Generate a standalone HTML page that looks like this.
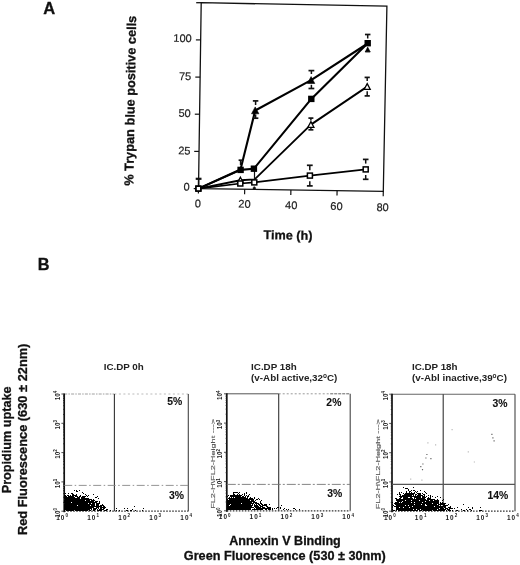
<!DOCTYPE html>
<html><head><meta charset="utf-8"><style>
html,body{margin:0;padding:0;background:#fff;width:520px;height:565px;overflow:hidden;}
svg{display:block;font-family:"Liberation Sans",sans-serif;filter:grayscale(1);}
</style></head><body><svg width="520" height="565" viewBox="0 0 520 565"><polygon points="201.2,2.7 386.9,6.2 383.3,191.3 198.5,188.6" fill="none" stroke="#111" stroke-width="1.3"/><line x1="193.7" y1="188.6" x2="198.5" y2="188.6" stroke="#111" stroke-width="1.2"/><line x1="194.2" y1="151.4" x2="199.0" y2="151.4" stroke="#111" stroke-width="1.2"/><line x1="194.8" y1="114.2" x2="199.6" y2="114.2" stroke="#111" stroke-width="1.2"/><line x1="195.3" y1="77.1" x2="200.1" y2="77.1" stroke="#111" stroke-width="1.2"/><line x1="195.9" y1="39.9" x2="200.7" y2="39.9" stroke="#111" stroke-width="1.2"/><line x1="196.2" y1="2.7" x2="201.2" y2="2.7" stroke="#111" stroke-width="1.3"/><line x1="198.5" y1="188.6" x2="198.4" y2="193.6" stroke="#111" stroke-width="1.2"/><line x1="244.7" y1="189.3" x2="244.6" y2="194.3" stroke="#111" stroke-width="1.2"/><line x1="290.9" y1="189.9" x2="290.8" y2="194.9" stroke="#111" stroke-width="1.2"/><line x1="337.1" y1="190.6" x2="337.0" y2="195.6" stroke="#111" stroke-width="1.2"/><line x1="383.3" y1="191.3" x2="383.2" y2="196.3" stroke="#111" stroke-width="1.2"/><text transform="rotate(0.95 191.7 38.2)" x="191.7" y="42.1" font-family="Liberation Sans, sans-serif" font-size="11" text-anchor="end" fill="#222" stroke="#222" stroke-width="0.2">100</text><text transform="rotate(0.95 191.3 76.3)" x="191.3" y="80.2" font-family="Liberation Sans, sans-serif" font-size="11" text-anchor="end" fill="#222" stroke="#222" stroke-width="0.2">75</text><text transform="rotate(0.95 190.8 113.1)" x="190.8" y="117.0" font-family="Liberation Sans, sans-serif" font-size="11" text-anchor="end" fill="#222" stroke="#222" stroke-width="0.2">50</text><text transform="rotate(0.95 190.5 150.6)" x="190.5" y="154.5" font-family="Liberation Sans, sans-serif" font-size="11" text-anchor="end" fill="#222" stroke="#222" stroke-width="0.2">25</text><text transform="rotate(0.95 189.8 186.8)" x="189.8" y="190.7" font-family="Liberation Sans, sans-serif" font-size="11" text-anchor="end" fill="#222" stroke="#222" stroke-width="0.2">0</text><text transform="rotate(0.95 198.0 203.3)" x="198.0" y="207.2" font-family="Liberation Sans, sans-serif" font-size="11" text-anchor="middle" fill="#222" stroke="#222" stroke-width="0.2">0</text><text transform="rotate(0.95 244.5 203.8)" x="244.5" y="207.7" font-family="Liberation Sans, sans-serif" font-size="11" text-anchor="middle" fill="#222" stroke="#222" stroke-width="0.2">20</text><text transform="rotate(0.95 291.3 205.0)" x="291.3" y="208.9" font-family="Liberation Sans, sans-serif" font-size="11" text-anchor="middle" fill="#222" stroke="#222" stroke-width="0.2">40</text><text transform="rotate(0.95 336.5 206.0)" x="336.5" y="209.9" font-family="Liberation Sans, sans-serif" font-size="11" text-anchor="middle" fill="#222" stroke="#222" stroke-width="0.2">60</text><text transform="rotate(0.95 382.7 207.2)" x="382.7" y="211.1" font-family="Liberation Sans, sans-serif" font-size="11" text-anchor="middle" fill="#222" stroke="#222" stroke-width="0.2">80</text><text transform="rotate(0.95 263.6 239.1)" x="263.6" y="239.1" font-family="Liberation Sans, sans-serif" font-size="12.6" font-weight="bold" fill="#111" stroke="#111" stroke-width="0.3">Time (h)</text><text transform="translate(133.3,185.8) rotate(-89.05)" x="0" y="0" font-family="Liberation Sans, sans-serif" font-size="12.9" font-weight="bold" fill="#111" stroke="#111" stroke-width="0.3" textLength="170" lengthAdjust="spacingAndGlyphs">% Trypan blue positive cells</text><polyline points="198.4,188.6 240.3,183.5 254.3,182.4 309.9,175.6 365.7,169.4" fill="none" stroke="#000" stroke-width="1.7" stroke-linejoin="round"/><polyline points="198.4,188.6 240.4,180.2 254.6,179.4 310.9,124.6 367.2,86.6" fill="none" stroke="#000" stroke-width="1.9" stroke-linejoin="round"/><polyline points="198.4,188.6 240.6,169.9 253.9,168.7 311.3,98.9 367.7,43.2" fill="none" stroke="#000" stroke-width="2.1" stroke-linejoin="round"/><polyline points="198.4,188.6 240.5,169.5 255.2,110.5 311.1,80.2 367.7,43.5" fill="none" stroke="#000" stroke-width="2.1" stroke-linejoin="round"/><line x1="198.6" y1="178.8" x2="198.6" y2="186" stroke="#111" stroke-width="1.5"/><line x1="195.7" y1="178.8" x2="201.5" y2="178.8" stroke="#111" stroke-width="2.2"/><line x1="240.6" y1="160.2" x2="240.6" y2="165" stroke="#111" stroke-width="1.5"/><line x1="238.6" y1="160.2" x2="242.6" y2="160.2" stroke="#111" stroke-width="1.7"/><line x1="255.6" y1="100.9" x2="255.6" y2="105" stroke="#111" stroke-width="1.5"/><line x1="252.85" y1="100.9" x2="258.35" y2="100.9" stroke="#111" stroke-width="1.7"/><line x1="255.6" y1="114.5" x2="255.6" y2="118.2" stroke="#111" stroke-width="1.5"/><line x1="252.85" y1="118.2" x2="258.35" y2="118.2" stroke="#111" stroke-width="1.7"/><line x1="311.4" y1="70.6" x2="311.4" y2="74.0" stroke="#111" stroke-width="1.5"/><line x1="308.5" y1="70.6" x2="314.29999999999995" y2="70.6" stroke="#111" stroke-width="1.7"/><line x1="311.4" y1="84.8" x2="311.4" y2="88.5" stroke="#111" stroke-width="1.5"/><line x1="308.5" y1="88.5" x2="314.29999999999995" y2="88.5" stroke="#111" stroke-width="1.7"/><line x1="310.9" y1="118.1" x2="310.9" y2="120.5" stroke="#111" stroke-width="1.5"/><line x1="308.4" y1="118.1" x2="313.4" y2="118.1" stroke="#111" stroke-width="1.7"/><line x1="310.9" y1="128.0" x2="310.9" y2="129.8" stroke="#111" stroke-width="1.5"/><line x1="308.4" y1="129.8" x2="313.4" y2="129.8" stroke="#111" stroke-width="1.7"/><line x1="309.8" y1="165.3" x2="309.8" y2="170.3" stroke="#111" stroke-width="1.5"/><line x1="306.90000000000003" y1="165.3" x2="312.7" y2="165.3" stroke="#111" stroke-width="1.7"/><line x1="309.8" y1="181.2" x2="309.8" y2="185.9" stroke="#111" stroke-width="1.5"/><line x1="306.90000000000003" y1="185.9" x2="312.7" y2="185.9" stroke="#111" stroke-width="1.7"/><line x1="367.7" y1="34.5" x2="367.7" y2="38.5" stroke="#111" stroke-width="1.5"/><line x1="364.95" y1="34.5" x2="370.45" y2="34.5" stroke="#111" stroke-width="1.7"/><line x1="367.2" y1="77.4" x2="367.2" y2="81.0" stroke="#111" stroke-width="1.5"/><line x1="364.59999999999997" y1="77.4" x2="369.8" y2="77.4" stroke="#111" stroke-width="1.7"/><line x1="367.2" y1="91.3" x2="367.2" y2="95.9" stroke="#111" stroke-width="1.5"/><line x1="364.59999999999997" y1="95.9" x2="369.8" y2="95.9" stroke="#111" stroke-width="1.7"/><line x1="365.7" y1="159.4" x2="365.7" y2="163.6" stroke="#111" stroke-width="1.5"/><line x1="362.9" y1="159.4" x2="368.5" y2="159.4" stroke="#111" stroke-width="1.7"/><line x1="365.7" y1="175.0" x2="365.7" y2="179.3" stroke="#111" stroke-width="1.5"/><line x1="362.9" y1="179.3" x2="368.5" y2="179.3" stroke="#111" stroke-width="1.7"/><line x1="254.3" y1="186.5" x2="254.3" y2="188.2" stroke="#111" stroke-width="1.5"/><line x1="252.8" y1="188.2" x2="255.8" y2="188.2" stroke="#111" stroke-width="1.7"/><polygon points="240.4,177.2 243.4,182.9 237.4,182.9" fill="#fff" stroke="#000" stroke-width="1.3"/><polygon points="310.9,121.6 313.9,127.3 307.9,127.3" fill="#fff" stroke="#000" stroke-width="1.3"/><polygon points="367.2,83.6 370.2,89.3 364.2,89.3" fill="#fff" stroke="#000" stroke-width="1.3"/><line x1="254.5" y1="171" x2="254.5" y2="180" stroke="#111" stroke-width="1.2"/><rect x="195.90" y="186.10" width="5.00" height="5.00" fill="#fff" stroke="#000" stroke-width="1.5"/><rect x="237.80" y="181.00" width="5.00" height="5.00" fill="#fff" stroke="#000" stroke-width="1.5"/><rect x="251.80" y="179.90" width="5.00" height="5.00" fill="#fff" stroke="#000" stroke-width="1.5"/><rect x="307.40" y="173.10" width="5.00" height="5.00" fill="#fff" stroke="#000" stroke-width="1.5"/><rect x="363.20" y="166.90" width="5.00" height="5.00" fill="#fff" stroke="#000" stroke-width="1.5"/><polygon points="255.2,106.9 258.9,113.8 251.5,113.8" fill="#000" stroke="#000" stroke-width="0.6" stroke-linejoin="round"/><polygon points="311.1,76.6 314.8,83.5 307.4,83.5" fill="#000" stroke="#000" stroke-width="0.6" stroke-linejoin="round"/><polygon points="367.7,47.1 370.2,51.9 365.2,51.9" fill="#000" stroke="#000" stroke-width="0.6" stroke-linejoin="round"/><line x1="365.2" y1="51.6" x2="370.2" y2="51.6" stroke="#111" stroke-width="1.3"/><rect x="237.4" y="166.7" width="6.4" height="6.4" fill="#000"/><rect x="250.7" y="165.5" width="6.4" height="6.4" fill="#000"/><rect x="308.1" y="95.7" width="6.4" height="6.4" fill="#000"/><rect x="364.5" y="40.0" width="6.4" height="6.4" fill="#000"/><rect x="196.05" y="186.25" width="4.70" height="4.70" fill="#fff" stroke="#000" stroke-width="1.5"/><text x="43.3" y="14.4" font-family="Liberation Sans, sans-serif" font-size="16.5" font-weight="bold" fill="#111" stroke="#111" stroke-width="0.3">A</text><text x="37.8" y="269.6" font-family="Liberation Sans, sans-serif" font-size="16.3" font-weight="bold" fill="#111" stroke="#111" stroke-width="0.3">B</text><line x1="64.2" y1="394.0" x2="114.4" y2="394.0" stroke="#888" stroke-width="0.8" stroke-dasharray="3 1.2 1.5 1.2"/><line x1="114.4" y1="394.0" x2="188.3" y2="394.0" stroke="#aaa" stroke-width="0.8" stroke-dasharray="2 2.5"/><line x1="188.3" y1="394.0" x2="188.3" y2="511.2" stroke="#444" stroke-width="1.1"/><line x1="64.2" y1="511.2" x2="188.3" y2="511.2" stroke="#333" stroke-width="1.2" stroke-dasharray="1.6 1.4"/><line x1="64.2" y1="393.5" x2="64.2" y2="512.2" stroke="#111" stroke-width="1.7"/><line x1="61.4" y1="511.2" x2="64.2" y2="511.2" stroke="#222" stroke-width="0.8"/><line x1="63.0" y1="502.4" x2="64.2" y2="502.4" stroke="#222" stroke-width="0.8"/><line x1="63.0" y1="497.2" x2="64.2" y2="497.2" stroke="#222" stroke-width="0.8"/><line x1="63.0" y1="493.6" x2="64.2" y2="493.6" stroke="#222" stroke-width="0.8"/><line x1="63.0" y1="490.7" x2="64.2" y2="490.7" stroke="#222" stroke-width="0.8"/><line x1="63.0" y1="488.4" x2="64.2" y2="488.4" stroke="#222" stroke-width="0.8"/><line x1="63.0" y1="486.4" x2="64.2" y2="486.4" stroke="#222" stroke-width="0.8"/><line x1="63.0" y1="484.7" x2="64.2" y2="484.7" stroke="#222" stroke-width="0.8"/><line x1="63.0" y1="483.2" x2="64.2" y2="483.2" stroke="#222" stroke-width="0.8"/><line x1="61.4" y1="481.9" x2="64.2" y2="481.9" stroke="#222" stroke-width="0.8"/><line x1="63.0" y1="473.1" x2="64.2" y2="473.1" stroke="#222" stroke-width="0.8"/><line x1="63.0" y1="467.9" x2="64.2" y2="467.9" stroke="#222" stroke-width="0.8"/><line x1="63.0" y1="464.3" x2="64.2" y2="464.3" stroke="#222" stroke-width="0.8"/><line x1="63.0" y1="461.4" x2="64.2" y2="461.4" stroke="#222" stroke-width="0.8"/><line x1="63.0" y1="459.1" x2="64.2" y2="459.1" stroke="#222" stroke-width="0.8"/><line x1="63.0" y1="457.1" x2="64.2" y2="457.1" stroke="#222" stroke-width="0.8"/><line x1="63.0" y1="455.4" x2="64.2" y2="455.4" stroke="#222" stroke-width="0.8"/><line x1="63.0" y1="453.9" x2="64.2" y2="453.9" stroke="#222" stroke-width="0.8"/><line x1="61.4" y1="452.6" x2="64.2" y2="452.6" stroke="#222" stroke-width="0.8"/><line x1="63.0" y1="443.8" x2="64.2" y2="443.8" stroke="#222" stroke-width="0.8"/><line x1="63.0" y1="438.6" x2="64.2" y2="438.6" stroke="#222" stroke-width="0.8"/><line x1="63.0" y1="435.0" x2="64.2" y2="435.0" stroke="#222" stroke-width="0.8"/><line x1="63.0" y1="432.1" x2="64.2" y2="432.1" stroke="#222" stroke-width="0.8"/><line x1="63.0" y1="429.8" x2="64.2" y2="429.8" stroke="#222" stroke-width="0.8"/><line x1="63.0" y1="427.8" x2="64.2" y2="427.8" stroke="#222" stroke-width="0.8"/><line x1="63.0" y1="426.1" x2="64.2" y2="426.1" stroke="#222" stroke-width="0.8"/><line x1="63.0" y1="424.6" x2="64.2" y2="424.6" stroke="#222" stroke-width="0.8"/><line x1="61.4" y1="423.3" x2="64.2" y2="423.3" stroke="#222" stroke-width="0.8"/><line x1="63.0" y1="414.5" x2="64.2" y2="414.5" stroke="#222" stroke-width="0.8"/><line x1="63.0" y1="409.3" x2="64.2" y2="409.3" stroke="#222" stroke-width="0.8"/><line x1="63.0" y1="405.7" x2="64.2" y2="405.7" stroke="#222" stroke-width="0.8"/><line x1="63.0" y1="402.8" x2="64.2" y2="402.8" stroke="#222" stroke-width="0.8"/><line x1="63.0" y1="400.5" x2="64.2" y2="400.5" stroke="#222" stroke-width="0.8"/><line x1="63.0" y1="398.5" x2="64.2" y2="398.5" stroke="#222" stroke-width="0.8"/><line x1="63.0" y1="396.8" x2="64.2" y2="396.8" stroke="#222" stroke-width="0.8"/><line x1="63.0" y1="395.3" x2="64.2" y2="395.3" stroke="#222" stroke-width="0.8"/><line x1="61.4" y1="394.0" x2="64.2" y2="394.0" stroke="#222" stroke-width="0.8"/><line x1="114.4" y1="394.0" x2="114.4" y2="511.2" stroke="#333" stroke-width="1.1"/><line x1="64.2" y1="485.4" x2="188.3" y2="485.4" stroke="#888" stroke-width="0.9" stroke-dasharray="8 2.5 1.5 2.5"/><text x="62.6" y="519.5" font-family="Liberation Sans, sans-serif" font-size="6.4" font-weight="bold" text-anchor="middle" fill="#1a1a1a" letter-spacing="1.1">10<tspan font-size="4.5" dy="-2.2">0</tspan></text><text x="93.6" y="519.5" font-family="Liberation Sans, sans-serif" font-size="6.4" font-weight="bold" text-anchor="middle" fill="#1a1a1a" letter-spacing="1.1">10<tspan font-size="4.5" dy="-2.2">1</tspan></text><text x="124.7" y="519.5" font-family="Liberation Sans, sans-serif" font-size="6.4" font-weight="bold" text-anchor="middle" fill="#1a1a1a" letter-spacing="1.1">10<tspan font-size="4.5" dy="-2.2">2</tspan></text><text x="155.7" y="519.5" font-family="Liberation Sans, sans-serif" font-size="6.4" font-weight="bold" text-anchor="middle" fill="#1a1a1a" letter-spacing="1.1">10<tspan font-size="4.5" dy="-2.2">3</tspan></text><text x="186.7" y="519.5" font-family="Liberation Sans, sans-serif" font-size="6.4" font-weight="bold" text-anchor="middle" fill="#1a1a1a" letter-spacing="1.1">10<tspan font-size="4.5" dy="-2.2">4</tspan></text><text transform="translate(59.8,512.7) rotate(-90)" font-family="Liberation Sans, sans-serif" font-size="6.3" font-weight="bold" text-anchor="middle" fill="#1a1a1a">10<tspan font-size="4.5" dy="-2.5">0</tspan></text><text transform="translate(59.8,483.4) rotate(-90)" font-family="Liberation Sans, sans-serif" font-size="6.3" font-weight="bold" text-anchor="middle" fill="#1a1a1a">10<tspan font-size="4.5" dy="-2.5">1</tspan></text><text transform="translate(59.8,454.1) rotate(-90)" font-family="Liberation Sans, sans-serif" font-size="6.3" font-weight="bold" text-anchor="middle" fill="#1a1a1a">10<tspan font-size="4.5" dy="-2.5">2</tspan></text><text transform="translate(59.8,424.8) rotate(-90)" font-family="Liberation Sans, sans-serif" font-size="6.3" font-weight="bold" text-anchor="middle" fill="#1a1a1a">10<tspan font-size="4.5" dy="-2.5">3</tspan></text><text transform="translate(59.8,395.5) rotate(-90)" font-family="Liberation Sans, sans-serif" font-size="6.3" font-weight="bold" text-anchor="middle" fill="#1a1a1a">10<tspan font-size="4.5" dy="-2.5">4</tspan></text><text x="103.7" y="369.5" font-family="Liberation Sans, sans-serif" font-size="9.8" font-weight="bold" fill="#222">IC.DP 0h</text><text x="182.3" y="405.3" font-family="Liberation Sans, sans-serif" font-size="10.4" font-weight="bold" text-anchor="end" fill="#111" stroke="#111" stroke-width="0.1">5%</text><text x="184.1" y="498.6" font-family="Liberation Sans, sans-serif" font-size="10.4" font-weight="bold" text-anchor="end" fill="#111" stroke="#111" stroke-width="0.1">3%</text><line x1="226.8" y1="393.8" x2="278.7" y2="393.8" stroke="#555" stroke-width="1"/><line x1="278.7" y1="393.8" x2="330.2" y2="393.8" stroke="#999" stroke-width="1" stroke-dasharray="2 2"/><line x1="330.2" y1="393.8" x2="350.2" y2="393.8" stroke="#666" stroke-width="1" stroke-dasharray="3 1"/><line x1="350.2" y1="393.8" x2="350.2" y2="510.8" stroke="#444" stroke-width="1.1"/><line x1="226.8" y1="510.8" x2="350.2" y2="510.8" stroke="#333" stroke-width="1.2" stroke-dasharray="1.6 1.4"/><line x1="226.8" y1="393.3" x2="226.8" y2="511.8" stroke="#111" stroke-width="1.7"/><line x1="224.0" y1="510.8" x2="226.8" y2="510.8" stroke="#222" stroke-width="0.8"/><line x1="225.6" y1="502.0" x2="226.8" y2="502.0" stroke="#222" stroke-width="0.8"/><line x1="225.6" y1="496.8" x2="226.8" y2="496.8" stroke="#222" stroke-width="0.8"/><line x1="225.6" y1="493.2" x2="226.8" y2="493.2" stroke="#222" stroke-width="0.8"/><line x1="225.6" y1="490.4" x2="226.8" y2="490.4" stroke="#222" stroke-width="0.8"/><line x1="225.6" y1="488.0" x2="226.8" y2="488.0" stroke="#222" stroke-width="0.8"/><line x1="225.6" y1="486.1" x2="226.8" y2="486.1" stroke="#222" stroke-width="0.8"/><line x1="225.6" y1="484.4" x2="226.8" y2="484.4" stroke="#222" stroke-width="0.8"/><line x1="225.6" y1="482.9" x2="226.8" y2="482.9" stroke="#222" stroke-width="0.8"/><line x1="224.0" y1="481.6" x2="226.8" y2="481.6" stroke="#222" stroke-width="0.8"/><line x1="225.6" y1="472.7" x2="226.8" y2="472.7" stroke="#222" stroke-width="0.8"/><line x1="225.6" y1="467.6" x2="226.8" y2="467.6" stroke="#222" stroke-width="0.8"/><line x1="225.6" y1="463.9" x2="226.8" y2="463.9" stroke="#222" stroke-width="0.8"/><line x1="225.6" y1="461.1" x2="226.8" y2="461.1" stroke="#222" stroke-width="0.8"/><line x1="225.6" y1="458.8" x2="226.8" y2="458.8" stroke="#222" stroke-width="0.8"/><line x1="225.6" y1="456.8" x2="226.8" y2="456.8" stroke="#222" stroke-width="0.8"/><line x1="225.6" y1="455.1" x2="226.8" y2="455.1" stroke="#222" stroke-width="0.8"/><line x1="225.6" y1="453.6" x2="226.8" y2="453.6" stroke="#222" stroke-width="0.8"/><line x1="224.0" y1="452.3" x2="226.8" y2="452.3" stroke="#222" stroke-width="0.8"/><line x1="225.6" y1="443.5" x2="226.8" y2="443.5" stroke="#222" stroke-width="0.8"/><line x1="225.6" y1="438.3" x2="226.8" y2="438.3" stroke="#222" stroke-width="0.8"/><line x1="225.6" y1="434.7" x2="226.8" y2="434.7" stroke="#222" stroke-width="0.8"/><line x1="225.6" y1="431.9" x2="226.8" y2="431.9" stroke="#222" stroke-width="0.8"/><line x1="225.6" y1="429.5" x2="226.8" y2="429.5" stroke="#222" stroke-width="0.8"/><line x1="225.6" y1="427.6" x2="226.8" y2="427.6" stroke="#222" stroke-width="0.8"/><line x1="225.6" y1="425.9" x2="226.8" y2="425.9" stroke="#222" stroke-width="0.8"/><line x1="225.6" y1="424.4" x2="226.8" y2="424.4" stroke="#222" stroke-width="0.8"/><line x1="224.0" y1="423.1" x2="226.8" y2="423.1" stroke="#222" stroke-width="0.8"/><line x1="225.6" y1="414.2" x2="226.8" y2="414.2" stroke="#222" stroke-width="0.8"/><line x1="225.6" y1="409.1" x2="226.8" y2="409.1" stroke="#222" stroke-width="0.8"/><line x1="225.6" y1="405.4" x2="226.8" y2="405.4" stroke="#222" stroke-width="0.8"/><line x1="225.6" y1="402.6" x2="226.8" y2="402.6" stroke="#222" stroke-width="0.8"/><line x1="225.6" y1="400.3" x2="226.8" y2="400.3" stroke="#222" stroke-width="0.8"/><line x1="225.6" y1="398.3" x2="226.8" y2="398.3" stroke="#222" stroke-width="0.8"/><line x1="225.6" y1="396.6" x2="226.8" y2="396.6" stroke="#222" stroke-width="0.8"/><line x1="225.6" y1="395.1" x2="226.8" y2="395.1" stroke="#222" stroke-width="0.8"/><line x1="224.0" y1="393.8" x2="226.8" y2="393.8" stroke="#222" stroke-width="0.8"/><line x1="278.7" y1="393.8" x2="278.7" y2="510.8" stroke="#333" stroke-width="1.1"/><line x1="226.8" y1="484.4" x2="350.2" y2="484.4" stroke="#777" stroke-width="0.9" stroke-dasharray="9 2 2 2"/><text x="225.2" y="519.1" font-family="Liberation Sans, sans-serif" font-size="6.4" font-weight="bold" text-anchor="middle" fill="#1a1a1a" letter-spacing="1.1">10<tspan font-size="4.5" dy="-2.2">0</tspan></text><text x="256.0" y="519.1" font-family="Liberation Sans, sans-serif" font-size="6.4" font-weight="bold" text-anchor="middle" fill="#1a1a1a" letter-spacing="1.1">10<tspan font-size="4.5" dy="-2.2">1</tspan></text><text x="286.9" y="519.1" font-family="Liberation Sans, sans-serif" font-size="6.4" font-weight="bold" text-anchor="middle" fill="#1a1a1a" letter-spacing="1.1">10<tspan font-size="4.5" dy="-2.2">2</tspan></text><text x="317.8" y="519.1" font-family="Liberation Sans, sans-serif" font-size="6.4" font-weight="bold" text-anchor="middle" fill="#1a1a1a" letter-spacing="1.1">10<tspan font-size="4.5" dy="-2.2">3</tspan></text><text x="348.6" y="519.1" font-family="Liberation Sans, sans-serif" font-size="6.4" font-weight="bold" text-anchor="middle" fill="#1a1a1a" letter-spacing="1.1">10<tspan font-size="4.5" dy="-2.2">4</tspan></text><text transform="translate(222.4,512.3) rotate(-90)" font-family="Liberation Sans, sans-serif" font-size="6.3" font-weight="bold" text-anchor="middle" fill="#1a1a1a">10<tspan font-size="4.5" dy="-2.5">0</tspan></text><text transform="translate(222.4,483.1) rotate(-90)" font-family="Liberation Sans, sans-serif" font-size="6.3" font-weight="bold" text-anchor="middle" fill="#1a1a1a">10<tspan font-size="4.5" dy="-2.5">1</tspan></text><text transform="translate(222.4,453.8) rotate(-90)" font-family="Liberation Sans, sans-serif" font-size="6.3" font-weight="bold" text-anchor="middle" fill="#1a1a1a">10<tspan font-size="4.5" dy="-2.5">2</tspan></text><text transform="translate(222.4,424.6) rotate(-90)" font-family="Liberation Sans, sans-serif" font-size="6.3" font-weight="bold" text-anchor="middle" fill="#1a1a1a">10<tspan font-size="4.5" dy="-2.5">3</tspan></text><text transform="translate(222.4,395.3) rotate(-90)" font-family="Liberation Sans, sans-serif" font-size="6.3" font-weight="bold" text-anchor="middle" fill="#1a1a1a">10<tspan font-size="4.5" dy="-2.5">4</tspan></text><text x="251.1" y="369.5" font-family="Liberation Sans, sans-serif" font-size="9.8" font-weight="bold" fill="#222">IC.DP 18h</text><text x="251.1" y="381.2" font-family="Liberation Sans, sans-serif" font-size="9.8" font-weight="bold" fill="#222">(v-Abl active,32<tspan font-size="6.5" dy="-3.6">o</tspan><tspan dy="3.6">C</tspan>)</text><text x="341.4" y="405.8" font-family="Liberation Sans, sans-serif" font-size="10.4" font-weight="bold" text-anchor="end" fill="#111" stroke="#111" stroke-width="0.1">2%</text><text x="342.3" y="497.4" font-family="Liberation Sans, sans-serif" font-size="10.4" font-weight="bold" text-anchor="end" fill="#111" stroke="#111" stroke-width="0.1">3%</text><text transform="translate(214.5,508.8) rotate(-90)" font-family="Liberation Sans, sans-serif" font-size="6.2" fill="#555" stroke="#555" stroke-width="0.15" textLength="90" lengthAdjust="spacingAndGlyphs">FL2-H\FL2-Height ---&gt;</text><line x1="392.0" y1="394.2" x2="515.0" y2="394.2" stroke="#666" stroke-width="1.1"/><line x1="515.0" y1="394.2" x2="515.0" y2="511.2" stroke="#444" stroke-width="1.1"/><line x1="392.0" y1="511.2" x2="515.0" y2="511.2" stroke="#333" stroke-width="1.2" stroke-dasharray="1.6 1.4"/><line x1="392.0" y1="393.7" x2="392.0" y2="512.2" stroke="#111" stroke-width="1.7"/><line x1="389.2" y1="511.2" x2="392.0" y2="511.2" stroke="#222" stroke-width="0.8"/><line x1="390.8" y1="502.4" x2="392.0" y2="502.4" stroke="#222" stroke-width="0.8"/><line x1="390.8" y1="497.2" x2="392.0" y2="497.2" stroke="#222" stroke-width="0.8"/><line x1="390.8" y1="493.6" x2="392.0" y2="493.6" stroke="#222" stroke-width="0.8"/><line x1="390.8" y1="490.8" x2="392.0" y2="490.8" stroke="#222" stroke-width="0.8"/><line x1="390.8" y1="488.4" x2="392.0" y2="488.4" stroke="#222" stroke-width="0.8"/><line x1="390.8" y1="486.5" x2="392.0" y2="486.5" stroke="#222" stroke-width="0.8"/><line x1="390.8" y1="484.8" x2="392.0" y2="484.8" stroke="#222" stroke-width="0.8"/><line x1="390.8" y1="483.3" x2="392.0" y2="483.3" stroke="#222" stroke-width="0.8"/><line x1="389.2" y1="481.9" x2="392.0" y2="481.9" stroke="#222" stroke-width="0.8"/><line x1="390.8" y1="473.1" x2="392.0" y2="473.1" stroke="#222" stroke-width="0.8"/><line x1="390.8" y1="468.0" x2="392.0" y2="468.0" stroke="#222" stroke-width="0.8"/><line x1="390.8" y1="464.3" x2="392.0" y2="464.3" stroke="#222" stroke-width="0.8"/><line x1="390.8" y1="461.5" x2="392.0" y2="461.5" stroke="#222" stroke-width="0.8"/><line x1="390.8" y1="459.2" x2="392.0" y2="459.2" stroke="#222" stroke-width="0.8"/><line x1="390.8" y1="457.2" x2="392.0" y2="457.2" stroke="#222" stroke-width="0.8"/><line x1="390.8" y1="455.5" x2="392.0" y2="455.5" stroke="#222" stroke-width="0.8"/><line x1="390.8" y1="454.0" x2="392.0" y2="454.0" stroke="#222" stroke-width="0.8"/><line x1="389.2" y1="452.7" x2="392.0" y2="452.7" stroke="#222" stroke-width="0.8"/><line x1="390.8" y1="443.9" x2="392.0" y2="443.9" stroke="#222" stroke-width="0.8"/><line x1="390.8" y1="438.7" x2="392.0" y2="438.7" stroke="#222" stroke-width="0.8"/><line x1="390.8" y1="435.1" x2="392.0" y2="435.1" stroke="#222" stroke-width="0.8"/><line x1="390.8" y1="432.3" x2="392.0" y2="432.3" stroke="#222" stroke-width="0.8"/><line x1="390.8" y1="429.9" x2="392.0" y2="429.9" stroke="#222" stroke-width="0.8"/><line x1="390.8" y1="428.0" x2="392.0" y2="428.0" stroke="#222" stroke-width="0.8"/><line x1="390.8" y1="426.3" x2="392.0" y2="426.3" stroke="#222" stroke-width="0.8"/><line x1="390.8" y1="424.8" x2="392.0" y2="424.8" stroke="#222" stroke-width="0.8"/><line x1="389.2" y1="423.4" x2="392.0" y2="423.4" stroke="#222" stroke-width="0.8"/><line x1="390.8" y1="414.6" x2="392.0" y2="414.6" stroke="#222" stroke-width="0.8"/><line x1="390.8" y1="409.5" x2="392.0" y2="409.5" stroke="#222" stroke-width="0.8"/><line x1="390.8" y1="405.8" x2="392.0" y2="405.8" stroke="#222" stroke-width="0.8"/><line x1="390.8" y1="403.0" x2="392.0" y2="403.0" stroke="#222" stroke-width="0.8"/><line x1="390.8" y1="400.7" x2="392.0" y2="400.7" stroke="#222" stroke-width="0.8"/><line x1="390.8" y1="398.7" x2="392.0" y2="398.7" stroke="#222" stroke-width="0.8"/><line x1="390.8" y1="397.0" x2="392.0" y2="397.0" stroke="#222" stroke-width="0.8"/><line x1="390.8" y1="395.5" x2="392.0" y2="395.5" stroke="#222" stroke-width="0.8"/><line x1="389.2" y1="394.2" x2="392.0" y2="394.2" stroke="#222" stroke-width="0.8"/><line x1="443.2" y1="394.2" x2="443.2" y2="511.2" stroke="#333" stroke-width="1.1"/><line x1="392.0" y1="484.4" x2="515.0" y2="484.4" stroke="#555" stroke-width="1.1"/><text x="390.4" y="519.5" font-family="Liberation Sans, sans-serif" font-size="6.4" font-weight="bold" text-anchor="middle" fill="#1a1a1a" letter-spacing="1.1">10<tspan font-size="4.5" dy="-2.2">0</tspan></text><text x="421.1" y="519.5" font-family="Liberation Sans, sans-serif" font-size="6.4" font-weight="bold" text-anchor="middle" fill="#1a1a1a" letter-spacing="1.1">10<tspan font-size="4.5" dy="-2.2">1</tspan></text><text x="451.9" y="519.5" font-family="Liberation Sans, sans-serif" font-size="6.4" font-weight="bold" text-anchor="middle" fill="#1a1a1a" letter-spacing="1.1">10<tspan font-size="4.5" dy="-2.2">2</tspan></text><text x="482.6" y="519.5" font-family="Liberation Sans, sans-serif" font-size="6.4" font-weight="bold" text-anchor="middle" fill="#1a1a1a" letter-spacing="1.1">10<tspan font-size="4.5" dy="-2.2">3</tspan></text><text x="513.4" y="519.5" font-family="Liberation Sans, sans-serif" font-size="6.4" font-weight="bold" text-anchor="middle" fill="#1a1a1a" letter-spacing="1.1">10<tspan font-size="4.5" dy="-2.2">4</tspan></text><text transform="translate(387.6,512.7) rotate(-90)" font-family="Liberation Sans, sans-serif" font-size="6.3" font-weight="bold" text-anchor="middle" fill="#1a1a1a">10<tspan font-size="4.5" dy="-2.5">0</tspan></text><text transform="translate(387.6,483.4) rotate(-90)" font-family="Liberation Sans, sans-serif" font-size="6.3" font-weight="bold" text-anchor="middle" fill="#1a1a1a">10<tspan font-size="4.5" dy="-2.5">1</tspan></text><text transform="translate(387.6,454.2) rotate(-90)" font-family="Liberation Sans, sans-serif" font-size="6.3" font-weight="bold" text-anchor="middle" fill="#1a1a1a">10<tspan font-size="4.5" dy="-2.5">2</tspan></text><text transform="translate(387.6,424.9) rotate(-90)" font-family="Liberation Sans, sans-serif" font-size="6.3" font-weight="bold" text-anchor="middle" fill="#1a1a1a">10<tspan font-size="4.5" dy="-2.5">3</tspan></text><text transform="translate(387.6,395.7) rotate(-90)" font-family="Liberation Sans, sans-serif" font-size="6.3" font-weight="bold" text-anchor="middle" fill="#1a1a1a">10<tspan font-size="4.5" dy="-2.5">4</tspan></text><text x="412.0" y="369.5" font-family="Liberation Sans, sans-serif" font-size="9.8" font-weight="bold" fill="#222">IC.DP 18h</text><text x="412.0" y="381.2" font-family="Liberation Sans, sans-serif" font-size="9.8" font-weight="bold" fill="#222">(v-Abl inactive,39<tspan font-size="6.5" dy="-3.6">o</tspan><tspan dy="3.6">C</tspan>)</text><text x="507.5" y="407.0" font-family="Liberation Sans, sans-serif" font-size="10.4" font-weight="bold" text-anchor="end" fill="#111" stroke="#111" stroke-width="0.1">3%</text><text x="508.3" y="498.9" font-family="Liberation Sans, sans-serif" font-size="10.4" font-weight="bold" text-anchor="end" fill="#111" stroke="#111" stroke-width="0.1">14%</text><text transform="translate(379.7,509.2) rotate(-90)" font-family="Liberation Sans, sans-serif" font-size="6.2" fill="#555" stroke="#555" stroke-width="0.15" textLength="90" lengthAdjust="spacingAndGlyphs">FL2-H\FL2-Height ---&gt;</text><path d="M74 490h1v1h-1zM76 490h1v1h-1zM79 490h1v1h-1zM76 491h2v1h-2zM82 492h1v1h-1zM65 493h1v1h-1zM68 493h1v1h-1zM71 493h2v1h-2zM83 493h1v1h-1zM72 494h2v1h-2zM76 494h1v1h-1zM85 494h1v1h-1zM93 494h1v1h-1zM64 495h2v1h-2zM67 495h2v1h-2zM70 495h1v1h-1zM72 495h5v1h-5zM80 495h1v1h-1zM86 495h1v1h-1zM88 495h1v1h-1zM64 496h3v1h-3zM68 496h6v1h-6zM75 496h3v1h-3zM79 496h2v1h-2zM82 496h4v1h-4zM87 496h1v1h-1zM97 496h1v1h-1zM64 497h11v1h-11zM77 497h3v1h-3zM81 497h4v1h-4zM95 497h2v1h-2zM64 498h16v1h-16zM81 498h8v1h-8zM98 498h1v1h-1zM65 499h27v1h-27zM93 499h1v1h-1zM64 500h21v1h-21zM86 500h4v1h-4zM91 500h4v1h-4zM64 501h30v1h-30zM95 501h3v1h-3zM99 501h1v1h-1zM64 502h7v1h-7zM72 502h25v1h-25zM99 502h1v1h-1zM65 503h23v1h-23zM89 503h2v1h-2zM92 503h3v1h-3zM96 503h4v1h-4zM64 504h31v1h-31zM96 504h3v1h-3zM102 504h1v1h-1zM64 505h13v1h-13zM78 505h12v1h-12zM91 505h4v1h-4zM96 505h3v1h-3zM100 505h4v1h-4zM64 506h38v1h-38zM103 506h2v1h-2zM134 506h1v1h-1zM64 507h30v1h-30zM96 507h3v1h-3zM100 507h6v1h-6zM64 508h28v1h-28zM93 508h4v1h-4zM98 508h1v1h-1zM100 508h2v1h-2zM103 508h2v1h-2zM116 508h1v1h-1zM124 508h1v1h-1zM127 508h1v1h-1zM143 508h1v1h-1zM64 509h26v1h-26zM91 509h1v1h-1zM93 509h3v1h-3zM97 509h1v1h-1zM99 509h5v1h-5zM106 509h2v1h-2zM132 509h1v1h-1zM64 510h1v1h-1zM66 510h8v1h-8zM75 510h13v1h-13zM89 510h2v1h-2zM93 510h2v1h-2zM97 510h5v1h-5zM104 510h3v1h-3zM110 510h1v1h-1zM116 510h1v1h-1zM119 510h1v1h-1zM126 510h2v1h-2zM130 510h2v1h-2zM135 510h1v1h-1zM142 510h1v1h-1z" fill="#000"/><path d="M233 492h5v1h-5zM239 492h1v1h-1zM246 492h1v1h-1zM233 493h1v1h-1zM238 493h1v1h-1zM244 493h1v1h-1zM246 493h1v1h-1zM233 494h2v1h-2zM237 494h1v1h-1zM239 494h1v1h-1zM242 494h1v1h-1zM244 494h1v1h-1zM249 494h1v1h-1zM228 495h1v1h-1zM230 495h12v1h-12zM244 495h1v1h-1zM246 495h1v1h-1zM248 495h1v1h-1zM227 496h1v1h-1zM230 496h11v1h-11zM242 496h2v1h-2zM245 496h1v1h-1zM247 496h2v1h-2zM229 497h1v1h-1zM231 497h1v1h-1zM233 497h1v1h-1zM235 497h11v1h-11zM247 497h1v1h-1zM250 497h1v1h-1zM254 497h1v1h-1zM228 498h20v1h-20zM249 498h4v1h-4zM254 498h1v1h-1zM258 498h1v1h-1zM227 499h1v1h-1zM229 499h25v1h-25zM256 499h2v1h-2zM259 499h1v1h-1zM227 500h23v1h-23zM251 500h3v1h-3zM255 500h1v1h-1zM261 500h1v1h-1zM227 501h28v1h-28zM260 501h1v1h-1zM227 502h25v1h-25zM253 502h4v1h-4zM260 502h1v1h-1zM227 503h14v1h-14zM242 503h12v1h-12zM255 503h4v1h-4zM260 503h2v1h-2zM227 504h3v1h-3zM231 504h20v1h-20zM252 504h1v1h-1zM254 504h1v1h-1zM256 504h1v1h-1zM258 504h2v1h-2zM261 504h2v1h-2zM264 504h3v1h-3zM269 504h1v1h-1zM227 505h2v1h-2zM230 505h23v1h-23zM254 505h4v1h-4zM259 505h2v1h-2zM262 505h5v1h-5zM281 505h1v1h-1zM227 506h25v1h-25zM254 506h5v1h-5zM260 506h3v1h-3zM266 506h2v1h-2zM227 507h27v1h-27zM255 507h6v1h-6zM262 507h3v1h-3zM267 507h4v1h-4zM277 507h2v1h-2zM280 507h1v1h-1zM227 508h24v1h-24zM254 508h1v1h-1zM256 508h15v1h-15zM272 508h1v1h-1zM274 508h1v1h-1zM276 508h1v1h-1zM280 508h1v1h-1zM284 508h1v1h-1zM293 508h2v1h-2zM227 509h24v1h-24zM252 509h11v1h-11zM265 509h2v1h-2zM268 509h3v1h-3zM272 509h1v1h-1zM283 509h1v1h-1zM286 509h1v1h-1zM288 509h1v1h-1zM295 509h1v1h-1zM299 509h1v1h-1z" fill="#000"/><path d="M403 487h1v1h-1zM413 487h1v1h-1zM405 488h3v1h-3zM408 489h1v1h-1zM408 490h1v1h-1zM411 490h1v1h-1zM413 490h2v1h-2zM420 490h1v1h-1zM406 491h1v1h-1zM409 491h2v1h-2zM415 491h1v1h-1zM417 491h1v1h-1zM424 491h1v1h-1zM399 492h1v1h-1zM401 492h1v1h-1zM406 492h1v1h-1zM409 492h1v1h-1zM411 492h1v1h-1zM414 492h1v1h-1zM416 492h1v1h-1zM425 492h1v1h-1zM399 493h1v1h-1zM403 493h1v1h-1zM405 493h10v1h-10zM417 493h4v1h-4zM422 493h1v1h-1zM426 493h1v1h-1zM397 494h1v1h-1zM399 494h2v1h-2zM404 494h10v1h-10zM415 494h2v1h-2zM418 494h3v1h-3zM423 494h2v1h-2zM400 495h1v1h-1zM402 495h10v1h-10zM413 495h1v1h-1zM415 495h1v1h-1zM417 495h6v1h-6zM424 495h1v1h-1zM428 495h1v1h-1zM430 495h1v1h-1zM399 496h22v1h-22zM422 496h3v1h-3zM426 496h1v1h-1zM430 496h1v1h-1zM432 496h1v1h-1zM437 496h1v1h-1zM400 497h2v1h-2zM403 497h5v1h-5zM410 497h2v1h-2zM414 497h7v1h-7zM422 497h4v1h-4zM428 497h1v1h-1zM430 497h1v1h-1zM435 497h1v1h-1zM440 497h1v1h-1zM395 498h2v1h-2zM399 498h2v1h-2zM403 498h10v1h-10zM414 498h1v1h-1zM416 498h9v1h-9zM427 498h4v1h-4zM396 499h30v1h-30zM427 499h8v1h-8zM437 499h1v1h-1zM443 499h1v1h-1zM396 500h9v1h-9zM406 500h5v1h-5zM412 500h7v1h-7zM420 500h9v1h-9zM430 500h3v1h-3zM434 500h5v1h-5zM442 500h1v1h-1zM397 501h5v1h-5zM403 501h22v1h-22zM426 501h13v1h-13zM392 502h1v1h-1zM395 502h4v1h-4zM400 502h1v1h-1zM402 502h9v1h-9zM412 502h2v1h-2zM415 502h7v1h-7zM423 502h16v1h-16zM440 502h1v1h-1zM442 502h1v1h-1zM394 503h38v1h-38zM433 503h6v1h-6zM440 503h6v1h-6zM392 504h1v1h-1zM395 504h19v1h-19zM415 504h6v1h-6zM422 504h3v1h-3zM426 504h11v1h-11zM438 504h7v1h-7zM448 504h1v1h-1zM463 504h1v1h-1zM393 505h1v1h-1zM396 505h9v1h-9zM406 505h2v1h-2zM409 505h16v1h-16zM427 505h12v1h-12zM440 505h1v1h-1zM443 505h5v1h-5zM392 506h1v1h-1zM394 506h18v1h-18zM413 506h21v1h-21zM435 506h11v1h-11zM450 506h1v1h-1zM392 507h1v1h-1zM396 507h3v1h-3zM400 507h3v1h-3zM404 507h5v1h-5zM410 507h33v1h-33zM444 507h2v1h-2zM448 507h3v1h-3zM457 507h1v1h-1zM468 507h1v1h-1zM472 507h1v1h-1zM480 507h1v1h-1zM396 508h43v1h-43zM440 508h4v1h-4zM445 508h3v1h-3zM449 508h4v1h-4zM454 508h1v1h-1zM472 508h1v1h-1zM392 509h1v1h-1zM396 509h17v1h-17zM414 509h2v1h-2zM417 509h3v1h-3zM421 509h16v1h-16zM438 509h8v1h-8zM447 509h3v1h-3zM461 509h1v1h-1zM466 509h1v1h-1zM469 509h2v1h-2zM393 510h2v1h-2zM396 510h1v1h-1zM398 510h20v1h-20zM419 510h3v1h-3zM423 510h9v1h-9zM433 510h12v1h-12zM446 510h1v1h-1zM448 510h3v1h-3zM452 510h1v1h-1zM456 510h2v1h-2zM463 510h2v1h-2zM467 510h1v1h-1zM471 510h1v1h-1zM479 510h3v1h-3z" fill="#000"/><path d="M491.3 433.7h1.2v1.2h-1.2zM492.3 437.2h1.2v1.2h-1.2zM493.5 440.2h1.2v1.2h-1.2zM426.3 453.9h1.2v1.2h-1.2zM425.3 457.4h1.2v1.2h-1.2zM430.3 458.0h1.2v1.2h-1.2zM422.3 463.4h1.2v1.2h-1.2zM420.2 466.0h1.2v1.2h-1.2zM421.9 469.0h1.2v1.2h-1.2z" fill="#666"/><path d="M427.3 442.2h1.2v1.2h-1.2zM435.0 444.2h1.2v1.2h-1.2zM410.1 478.6h1.2v1.2h-1.2zM421.3 479.6h1.2v1.2h-1.2zM451.5 429.0h1.2v1.2h-1.2zM467.7 451.3h1.2v1.2h-1.2zM473.8 461.4h1.2v1.2h-1.2z" fill="#bbb"/><text transform="translate(10.7,493.3) rotate(-90)" font-family="Liberation Sans, sans-serif" font-size="12.6" font-weight="bold" fill="#111" stroke="#111" stroke-width="0.3" textLength="106.8" lengthAdjust="spacingAndGlyphs">Propidium uptake</text><text transform="translate(27.3,535.1) rotate(-90)" font-family="Liberation Sans, sans-serif" font-size="12.7" font-weight="bold" fill="#111" stroke="#111" stroke-width="0.3" textLength="191.5" lengthAdjust="spacingAndGlyphs">Red Fluorescence (630 ± 22nm)</text><text x="229.2" y="544.6" font-family="Liberation Sans, sans-serif" font-size="12.3" font-weight="bold" fill="#111" stroke="#111" stroke-width="0.3" textLength="111.6" lengthAdjust="spacingAndGlyphs">Annexin V Binding</text><text x="183.8" y="560.1" font-family="Liberation Sans, sans-serif" font-size="12.3" font-weight="bold" fill="#111" stroke="#111" stroke-width="0.3" textLength="202" lengthAdjust="spacingAndGlyphs">Green Fluorescence (530 ± 30nm)</text></svg></body></html>
